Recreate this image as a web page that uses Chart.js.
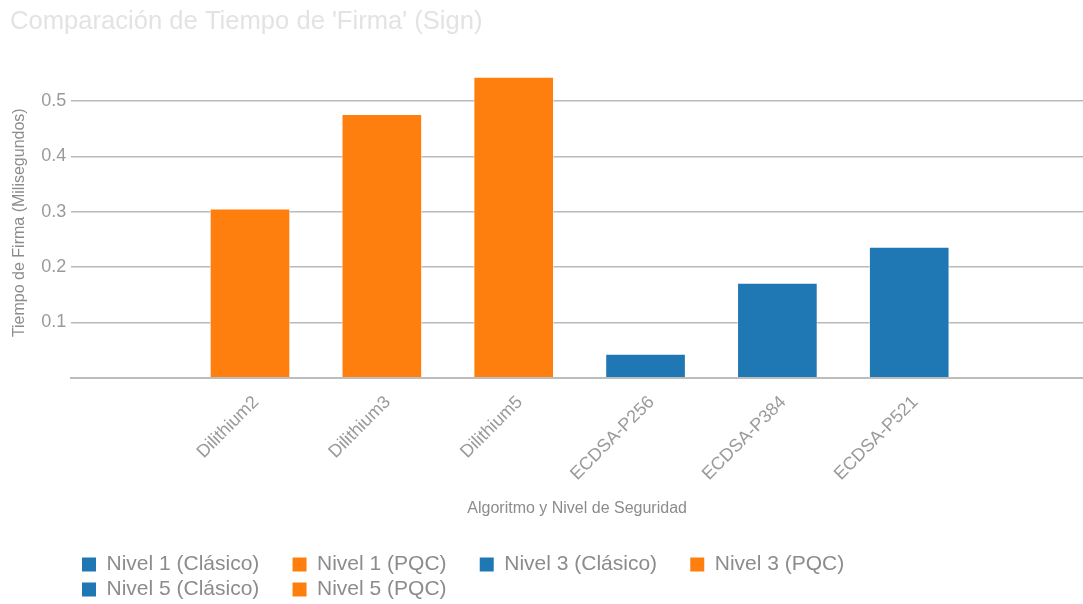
<!DOCTYPE html>
<html>
<head>
<meta charset="utf-8">
<script src="https://cdn.jsdelivr.net/npm/chart.js@4.4.1/dist/chart.umd.min.js"></script>
<style>
  html, body { margin: 0; padding: 0; background: #fff; }
  #wrap { width: 1083px; height: 604px; }
</style>
</head>
<body>
<div id="wrap"><canvas id="signChart"></canvas></div>
<script>
// datos del grafico
const categories = ['Dilithium2', 'Dilithium3', 'Dilithium5', 'ECDSA-P256', 'ECDSA-P384', 'ECDSA-P521'];
const seriesNames = ['Nivel 1 (Clásico)', 'Nivel 1 (PQC)', 'Nivel 3 (Clásico)', 'Nivel 3 (PQC)', 'Nivel 5 (Clásico)', 'Nivel 5 (PQC)'];
const nivel1Clasico = [null, null, null, 0.0425, null, null];
const nivel1PQC     = [0.305, null, null, null, null, null];
const nivel3Clasico = [null, null, null, null, 0.171, null];
const nivel3PQC     = [null, 0.476, null, null, null, null];
const nivel5Clasico = [null, null, null, null, null, 0.236];
const nivel5PQC     = [null, null, 0.543, null, null, null];
const yTicks = [0.1, 0.2, 0.3, 0.4, 0.5];

const BLUE = '#1f77b4';
const ORANGE = '#ff7f0e';

const seriesValues = [nivel1Clasico, nivel1PQC, nivel3Clasico, nivel3PQC, nivel5Clasico, nivel5PQC];
const seriesColors = [BLUE, ORANGE, BLUE, ORANGE, BLUE, ORANGE];

// cada serie -> puntos {x, y} sobre el eje lineal (x = indice de categoria)
const datasets = seriesValues.map((vals, i) => ({
    label: seriesNames[i],
    data: vals.map((v, idx) => v === null ? null : { x: idx, y: v }).filter(p => p !== null),
    backgroundColor: seriesColors[i],
    borderColor: 'rgba(255,255,255,0.5)',
    borderWidth: 1,
    barThickness: 80,
    grouped: false
}));

// leyenda: 4 elementos por fila, alineada con el area del grafico
const LEGEND_ROW_WIDTH = 850;
const LEGEND_LEFT = 78;
const LEGEND_SHIFT_Y = 6;
const legendLayout = {
    id: 'legendLayout',
    beforeUpdate(chart) {
        const lg = chart.legend;
        if (!lg || lg._rowPatched) return;
        lg._rowPatched = true;
        const orig = lg._fitRows;
        lg._fitRows = function (...args) {
            const keep = this.maxWidth;
            this.maxWidth = LEGEND_ROW_WIDTH;
            const h = orig.apply(this, args);
            this.maxWidth = keep;
            return h;
        };
    },
    afterLayout(chart) {
        const lg = chart.legend;
        if (!lg) return;
        lg.left = LEGEND_LEFT;
        lg.right = LEGEND_LEFT + LEGEND_ROW_WIDTH;
        lg.top += LEGEND_SHIFT_Y;
        lg.bottom += LEGEND_SHIFT_Y;
    }
};

Chart.defaults.font.family = '"Liberation Sans", Arial, sans-serif';

new Chart(document.getElementById('signChart').getContext('2d'), {
    type: 'bar',
    data: { datasets: datasets },
    plugins: [legendLayout],
    options: {
        responsive: true,
        maintainAspectRatio: false,
        animation: false,
        layout: { padding: { left: 10, right: 0, top: 0, bottom: 0 } },
        scales: {
            x: {
                type: 'linear',
                offset: false,
                min: -1.356,
                max: 6.318,
                afterBuildTicks: (axis) => {
                    axis.ticks = categories.map((c, i) => ({ value: i }));
                },
                ticks: {
                    autoSkip: false,
                    maxRotation: 45,
                    minRotation: 45,
                    color: '#9a9a9a',
                    font: { size: 18 },
                    padding: 14,
                    labelOffset: 6,
                    callback: (value) => categories[value] ?? ''
                },
                grid: { display: false, drawTicks: false },
                border: { display: true, color: '#bdbdbd', width: 2 },
                title: {
                    display: true,
                    text: 'Algoritmo y Nivel de Seguridad',
                    color: '#8c8c8c',
                    font: { size: 16 },
                    padding: { top: 0, bottom: 26 }
                }
            },
            y: {
                min: 0,
                max: 0.56,
                afterBuildTicks: (axis) => {
                    axis.ticks = [0].concat(yTicks).map(v => ({ value: v }));
                },
                ticks: {
                    color: '#9a9a9a',
                    font: { size: 18 },
                    padding: 5,
                    callback: (value) => value === 0 ? '' : value.toFixed(1)
                },
                grid: {
                    color: (ctx) => ctx.tick && ctx.tick.value === 0 ? 'rgba(0,0,0,0)' : '#bababa',
                    lineWidth: 1.5,
                    drawTicks: false
                },
                border: { display: false },
                title: {
                    display: true,
                    text: 'Tiempo de Firma (Milisegundos)',
                    color: '#8c8c8c',
                    font: { size: 16 },
                    padding: { top: 0, bottom: 7 }
                }
            }
        },
        plugins: {
            title: {
                display: true,
                text: "Comparación de Tiempo de 'Firma' (Sign)",
                align: 'start',
                color: '#e3e3e3',
                font: { size: 25.6, weight: 'normal' },
                padding: { top: 7, bottom: 30 }
            },
            legend: {
                position: 'bottom',
                align: 'start',
                labels: {
                    color: '#8c8c8c',
                    font: { size: 21 },
                    boxWidth: 14,
                    boxHeight: 14,
                    padding: 4,
                    generateLabels: (chart) => {
                        const items = Chart.defaults.plugins.legend.labels.generateLabels(chart);
                        items.forEach(it => { it.text = it.text + '     '; it.lineWidth = 0; });
                        return items;
                    }
                }
            },
            tooltip: { enabled: false }
        }
    }
});
</script>
</body>
</html>
